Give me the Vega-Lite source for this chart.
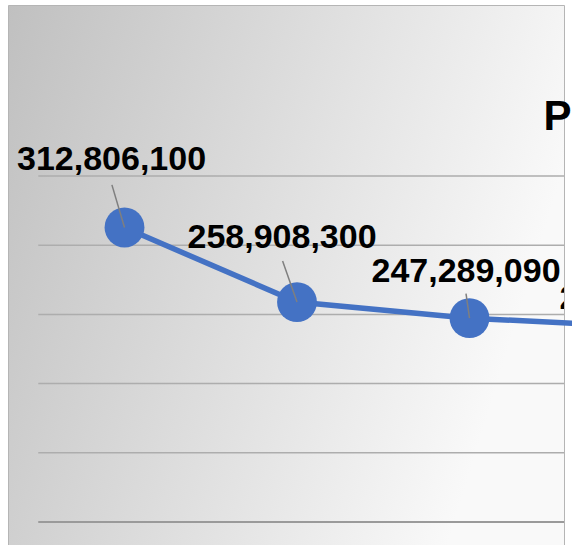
{
  "$schema": "https://vega.github.io/schema/vega-lite/v6.json",
  "width": 556,
  "height": 540,
  "autosize": {"type": "none"},
  "padding": {"left": 8, "top": 5, "right": 8, "bottom": 0},
  "background": "#ffffff",
  "config": {
    "view": {
      "fill": {"gradient": "linear", "x1": 0, "y1": 0, "x2": 1, "y2": 0.3,
        "stops": [{"offset": 0, "color": "#c0c0c0"}, {"offset": 1, "color": "#f9f9f9"}]},
      "stroke": "#b5b5b5",
      "strokeWidth": 1
    },
    "font": "Liberation Sans"
  },
  "title": {
    "text": "P",
    "orient": "top",
    "anchor": "start",
    "frame": "group",
    "offset": 0,
    "baseline": "alphabetic",
    "dx": 535.5,
    "dy": 167,
    "font": "Liberation Sans",
    "fontSize": 42,
    "fontWeight": "bold",
    "color": "#000000"
  },
  "datasets": {
    "series": [
      {"period": 1, "value": 312806100},
      {"period": 2, "value": 258908300},
      {"period": 3, "value": 247289090},
      {"period": 4, "value": 241126500}
    ],
    "grid": [
      {"v": 150000000},
      {"v": 200000000},
      {"v": 250000000},
      {"v": 300000000},
      {"v": 350000000}
    ],
    "base": [{"v": 100000000}]
  },
  "layer": [
    {
      "data": {"name": "grid"},
      "mark": {"type": "rule", "stroke": "#adadad", "strokeWidth": 1.5, "clip": true},
      "encoding": {
        "y": {"field": "v", "type": "quantitative", "axis": null,
          "scale": {"domain": [83380000, 473550000], "nice": false, "zero": false}},
        "x": {"datum": 0.5, "type": "quantitative", "axis": null,
          "scale": {"domain": [0.3246, 3.5478], "nice": false, "zero": false}},
        "x2": {"datum": 10}
      }
    },
    {
      "data": {"name": "base"},
      "mark": {"type": "rule", "stroke": "#9a9a9a", "strokeWidth": 2, "clip": true},
      "encoding": {
        "y": {"field": "v", "type": "quantitative"},
        "x": {"datum": 0.5, "type": "quantitative"},
        "x2": {"datum": 10}
      }
    },
    {
      "data": {"name": "series"},
      "mark": {"type": "line", "color": "#4472C4", "strokeWidth": 5.5},
      "encoding": {
        "x": {"field": "period", "type": "quantitative"},
        "y": {"field": "value", "type": "quantitative"}
      }
    },
    {
      "data": {"name": "series"},
      "mark": {"type": "circle", "color": "#4472C4", "opacity": 1, "size": 1590},
      "encoding": {
        "x": {"field": "period", "type": "quantitative"},
        "y": {"field": "value", "type": "quantitative"}
      }
    },
    {
      "data": {"name": "series"},
      "transform": [{"filter": "datum.period == 1"}],
      "mark": {"type": "rule", "stroke": "#7f7f7f", "strokeWidth": 1.5, "x2Offset": -12.6, "y2Offset": -42.6},
      "encoding": {
        "x": {"field": "period", "type": "quantitative"},
        "y": {"field": "value", "type": "quantitative"},
        "x2": {"field": "period"},
        "y2": {"field": "value"}
      }
    },
    {
      "data": {"name": "series"},
      "transform": [{"filter": "datum.period == 2"}],
      "mark": {"type": "rule", "stroke": "#7f7f7f", "strokeWidth": 1.5, "x2Offset": -14.4, "y2Offset": -41},
      "encoding": {
        "x": {"field": "period", "type": "quantitative"},
        "y": {"field": "value", "type": "quantitative"},
        "x2": {"field": "period"},
        "y2": {"field": "value"}
      }
    },
    {
      "data": {"name": "series"},
      "transform": [{"filter": "datum.period == 3"}],
      "mark": {"type": "rule", "stroke": "#7f7f7f", "strokeWidth": 1.5, "x2Offset": -3.5, "y2Offset": -24.5},
      "encoding": {
        "x": {"field": "period", "type": "quantitative"},
        "y": {"field": "value", "type": "quantitative"},
        "x2": {"field": "period"},
        "y2": {"field": "value"}
      }
    },
    {
      "data": {"name": "series"},
      "transform": [{"filter": "datum.period == 1"}],
      "mark": {"type": "text", "font": "Liberation Sans", "fontSize": 34, "fontWeight": "bold", "color": "#000000",
        "align": "center", "baseline": "alphabetic", "dx": -13, "dy": -57, "clip": true},
      "encoding": {
        "x": {"field": "period", "type": "quantitative"},
        "y": {"field": "value", "type": "quantitative"},
        "text": {"field": "value", "type": "quantitative", "format": ","}
      }
    },
    {
      "data": {"name": "series"},
      "transform": [{"filter": "datum.period == 2"}],
      "mark": {"type": "text", "font": "Liberation Sans", "fontSize": 34, "fontWeight": "bold", "color": "#000000",
        "align": "center", "baseline": "alphabetic", "dx": -15, "dy": -54, "clip": true},
      "encoding": {
        "x": {"field": "period", "type": "quantitative"},
        "y": {"field": "value", "type": "quantitative"},
        "text": {"field": "value", "type": "quantitative", "format": ","}
      }
    },
    {
      "data": {"name": "series"},
      "transform": [{"filter": "datum.period == 3"}],
      "mark": {"type": "text", "font": "Liberation Sans", "fontSize": 34, "fontWeight": "bold", "color": "#000000",
        "align": "center", "baseline": "alphabetic", "dx": -3.5, "dy": -36, "clip": true},
      "encoding": {
        "x": {"field": "period", "type": "quantitative"},
        "y": {"field": "value", "type": "quantitative"},
        "text": {"field": "value", "type": "quantitative", "format": ","}
      }
    },
    {
      "data": {"name": "series"},
      "transform": [{"filter": "datum.period == 4"}],
      "mark": {"type": "text", "font": "Liberation Sans", "fontSize": 34, "fontWeight": "bold", "color": "#000000",
        "align": "center", "baseline": "alphabetic", "dx": 12, "dy": -18, "clip": true},
      "encoding": {
        "x": {"field": "period", "type": "quantitative"},
        "y": {"field": "value", "type": "quantitative"},
        "text": {"field": "value", "type": "quantitative", "format": ","}
      }
    }
  ]
}
